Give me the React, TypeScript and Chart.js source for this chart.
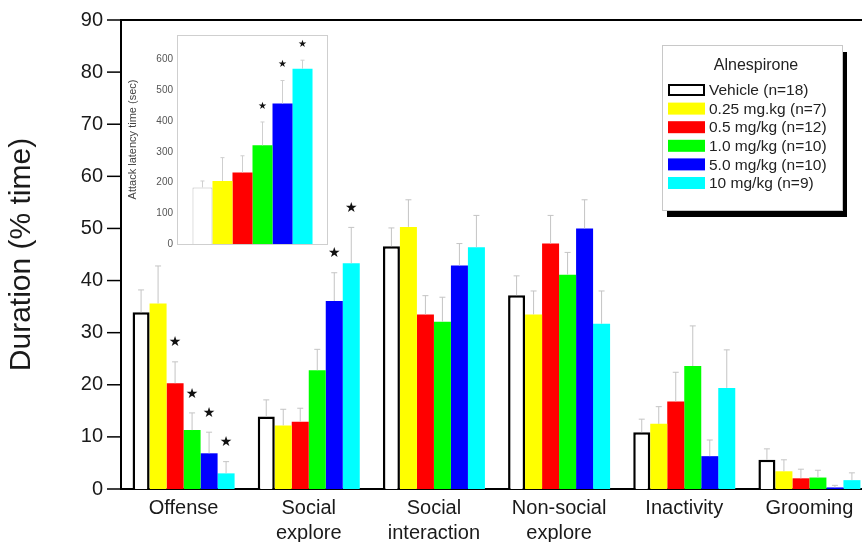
import React, { useEffect, useRef } from "react";
import { Chart, registerables } from "chart.js";
Chart.register(...registerables);

// ---------- data ----------
const categories = [
  ["Offense"],
  ["Social", "explore"],
  ["Social", "interaction"],
  ["Non-social", "explore"],
  ["Inactivity"],
  ["Grooming"],
];
const doseLabels = [
  "Vehicle (n=18)",
  "0.25 mg.kg (n=7)",
  "0.5 mg/kg (n=12)",
  "1.0 mg/kg (n=10)",
  "5.0 mg/kg (n=10)",
  "10 mg/kg (n=9)",
];
const legendTitle = "Alnespirone";
const doseColors = ["#ffffff", "#ffff00", "#ff0000", "#00ff00", "#0000ff", "#00ffff"];

const vehicleMean = [33.9, 13.9, 46.6, 37.2, 10.9, 5.6];
const vehicleSem = [4.3, 3.2, 3.5, 3.7, 2.5, 2.1];
const dose025Mean = [35.6, 12.2, 50.3, 33.5, 12.5, 3.4];
const dose025Sem = [7.2, 3.1, 5.2, 4.5, 3.3, 2.2];
const dose05Mean = [20.3, 12.9, 33.5, 47.1, 16.8, 2.05];
const dose05Sem = [4.1, 2.6, 3.6, 5.4, 5.6, 1.75];
const dose1Mean = [11.3, 22.8, 32.1, 41.1, 23.6, 2.2];
const dose1Sem = [3.3, 4.0, 4.7, 4.3, 7.7, 1.4];
const dose5Mean = [6.85, 36.1, 42.9, 50.0, 6.3, 0.3];
const dose5Sem = [4.05, 5.4, 4.2, 5.5, 3.1, 0.4];
const dose10Mean = [3.0, 43.3, 46.4, 31.7, 19.4, 1.7];
const dose10Sem = [2.25, 6.9, 6.1, 6.3, 7.3, 1.4];

const vehicleSig = [false, false, false, false, false, false];
const dose025Sig = [false, false, false, false, false, false];
const dose05Sig = [true, false, false, false, false, false];
const dose1Sig = [true, false, false, false, false, false];
const dose5Sig = [true, true, false, false, false, false];
const dose10Sig = [true, true, false, false, false, false];

const yTicksMax = 90;

// inset: attack latency
const latencyMean = [184, 205, 233, 321, 457, 570];
const latencySem = [21, 76, 54, 76, 75, 28];
const latencySig = [false, false, false, true, true, true];
const latencyAxisTitle = "Attack latency time (sec)";
const latencyTickMax = 600;

const FONT = 'Arial, "Liberation Sans", sans-serif';

// ---------- plugins ----------
const errorBarPlugin = {
  id: "errbars",
  afterDatasetsDraw(chart: any, _args: any, opts: any) {
    const ctx = chart.ctx;
    const y = chart.scales.y;
    chart.data.datasets.forEach((ds: any, i: number) => {
      const meta = chart.getDatasetMeta(i);
      meta.data.forEach((bar: any, j: number) => {
        const v = ds.data[j];
        const e = ds.errors[j];
        const top = y.getPixelForValue(v + e);
        ctx.save();
        ctx.strokeStyle = opts.color;
        ctx.lineWidth = 1;
        ctx.beginPath();
        ctx.moveTo(bar.x, bar.y);
        ctx.lineTo(bar.x, top);
        ctx.moveTo(bar.x - opts.cap, top);
        ctx.lineTo(bar.x + opts.cap, top);
        ctx.stroke();
        if (ds.sig && ds.sig[j]) {
          ctx.fillStyle = "#111";
          ctx.font = opts.starFont;
          ctx.textAlign = "center";
          ctx.textBaseline = "middle";
          ctx.fillText("\u2605", bar.x, top - opts.starGap);
        }
        ctx.restore();
      });
    });
  },
};

const mainFramePlugin = {
  id: "mainframe",
  afterDraw(chart: any) {
    const ctx = chart.ctx;
    const { left, right, top } = chart.chartArea;
    const y = chart.scales.y;
    ctx.save();
    ctx.strokeStyle = "#000";
    ctx.lineWidth = 2;
    ctx.beginPath();
    ctx.moveTo(left, top);
    ctx.lineTo(right, top);
    ctx.stroke();
    ctx.lineWidth = 1.5;
    y.ticks.forEach((t: any) => {
      const py = y.getPixelForValue(t.value);
      const len = t.value % 10 === 0 ? 14 : 7;
      ctx.beginPath();
      ctx.moveTo(left - len, py);
      ctx.lineTo(left, py);
      ctx.stroke();
    });
    // legend
    const lx = 662, ly = 45, lw = 180, lh = 165;
    ctx.fillStyle = "#000";
    ctx.fillRect(lx + 5, ly + 7, lw, lh);
    ctx.fillStyle = "#fff";
    ctx.fillRect(lx, ly, lw, lh);
    ctx.strokeStyle = "#c8c8c8";
    ctx.lineWidth = 1;
    ctx.strokeRect(lx + 0.5, ly + 0.5, lw, lh);
    ctx.fillStyle = "#222";
    ctx.font = `16px ${FONT}`;
    ctx.textAlign = "center";
    ctx.textBaseline = "middle";
    ctx.fillText(legendTitle, lx + 94, ly + 21);
    ctx.textAlign = "left";
    ctx.font = `15.5px ${FONT}`;
    chart.data.datasets.forEach((ds: any, i: number) => {
      const ry = ly + 45 + i * 18.6;
      ctx.fillStyle = ds.backgroundColor;
      ctx.fillRect(lx + 6, ry - 6, 37, 12);
      if (ds.borderWidth > 0) {
        ctx.strokeStyle = "#000";
        ctx.lineWidth = 2;
        ctx.strokeRect(lx + 7, ry - 5, 35, 10);
      }
      ctx.fillStyle = "#222";
      ctx.fillText(ds.label, lx + 47, ry + 1);
    });
    ctx.restore();
  },
};

const insetFramePlugin = {
  id: "insetframe",
  afterDraw(chart: any) {
    const ctx = chart.ctx;
    const { left, right, top, bottom } = chart.chartArea;
    ctx.save();
    ctx.strokeStyle = "#cfcfcf";
    ctx.lineWidth = 1;
    ctx.strokeRect(left + 0.5, top + 0.5, right - left - 1, bottom - top);
    ctx.restore();
  },
};

function makeSet(label: string, color: string, data: number[], errors: number[], sig: boolean[], isVehicle: boolean) {
  return {
    label,
    data,
    errors,
    sig,
    backgroundColor: color,
    borderColor: isVehicle ? "#000" : color,
    borderWidth: isVehicle ? 2.5 : 0,
    borderSkipped: "bottom",
    barPercentage: 1,
    categoryPercentage: 0.815,
  } as any;
}

export default function App() {
  const mainRef = useRef<HTMLCanvasElement>(null);
  const insetRef = useRef<HTMLCanvasElement>(null);

  useEffect(() => {
    const means = [vehicleMean, dose025Mean, dose05Mean, dose1Mean, dose5Mean, dose10Mean];
    const sems = [vehicleSem, dose025Sem, dose05Sem, dose1Sem, dose5Sem, dose10Sem];
    const sigs = [vehicleSig, dose025Sig, dose05Sig, dose1Sig, dose5Sig, dose10Sig];
    const main = new Chart(mainRef.current as HTMLCanvasElement, {
      type: "bar",
      data: {
        labels: categories as any,
        datasets: doseLabels.map((l, i) => makeSet(l, doseColors[i], means[i], sems[i], sigs[i], i === 0)),
      },
      options: {
        responsive: false,
        animation: false,
        layout: { padding: { top: 20, right: 8, left: 0, bottom: 0 } },
        plugins: {
          legend: { display: false },
          tooltip: { enabled: false },
          errbars: { color: "#c4c4c4", cap: 3, starGap: 19, starFont: `14px "DejaVu Sans", sans-serif` },
        } as any,
        scales: {
          x: {
            grid: { display: false, drawTicks: false },
            border: { display: true, color: "#000", width: 2 },
            ticks: { color: "#1a1a1a", font: { family: FONT, size: 20, lineHeight: 1.25 }, padding: 7, maxRotation: 0, autoSkip: false },
            afterFit: (s: any) => { s.height = 53; },
          },
          y: {
            min: 0,
            max: yTicksMax,
            grid: { display: false, drawTicks: false },
            border: { display: true, color: "#000", width: 2 },
            ticks: {
              stepSize: 5,
              padding: 18,
              color: "#1a1a1a",
              font: { family: FONT, size: 20 },
              callback: (v: any) => (Number(v) % 10 === 0 ? String(v) : ""),
            },
            title: {
              display: true,
              text: "Duration (% time)",
              color: "#1a1a1a",
              font: { family: FONT, size: 30 },
              padding: { top: 4, bottom: 0 },
            },
            afterFit: (s: any) => { s.width = 121; s.paddingTop = 0; s.paddingBottom = 0; },
          },
        },
      } as any,
      plugins: [errorBarPlugin, mainFramePlugin],
    });

    const inset = new Chart(insetRef.current as HTMLCanvasElement, {
      type: "bar",
      data: {
        labels: [""],
        datasets: doseLabels.map((l, i) => ({
          label: l,
          data: [latencyMean[i]],
          errors: [latencySem[i]],
          sig: [latencySig[i]],
          backgroundColor: doseColors[i],
          borderColor: i === 0 ? "#bdbdbd" : doseColors[i],
          borderWidth: i === 0 ? 1 : 0,
          borderSkipped: "bottom",
          barPercentage: 1,
          categoryPercentage: 0.795,
        })) as any,
      },
      options: {
        responsive: false,
        animation: false,
        layout: { padding: { top: 7, right: 7, left: 0, bottom: 0 } },
        plugins: {
          legend: { display: false },
          tooltip: { enabled: false },
          errbars: { color: "#cfcfcf", cap: 2, starGap: 16, starFont: `10px "DejaVu Sans", sans-serif` },
        } as any,
        scales: {
          x: {
            grid: { display: false, drawTicks: false },
            border: { display: false },
            ticks: { display: false },
            afterFit: (s: any) => { s.height = 4; s.paddingLeft = 0; s.paddingRight = 0; },
          },
          y: {
            min: 0,
            max: 680,
            grid: { display: false, drawTicks: false },
            border: { display: false },
            afterBuildTicks: (s: any) => { s.ticks = s.ticks.filter((t: any) => t.value <= latencyTickMax); },
            ticks: { stepSize: 100, padding: 4, color: "#555", font: { family: FONT, size: 10 } },
            title: {
              display: true,
              text: latencyAxisTitle,
              color: "#444",
              font: { family: FONT, size: 11 },
              padding: { top: 6, bottom: 0 },
            },
            afterFit: (s: any) => { s.width = 57; s.paddingTop = 0; s.paddingBottom = 0; },
          },
        },
      } as any,
      plugins: [errorBarPlugin, insetFramePlugin],
    });

    return () => {
      main.destroy();
      inset.destroy();
    };
  }, []);

  return (
    <div style={{ position: "fixed", left: 0, top: 0, width: 862, height: 542, overflow: "hidden", background: "#fff" }}>
      <canvas ref={mainRef} width={880} height={542} style={{ position: "absolute", left: 0, top: 0 }} />
      <canvas ref={insetRef} width={215} height={220} style={{ position: "absolute", left: 120, top: 28 }} />
    </div>
  );
}
